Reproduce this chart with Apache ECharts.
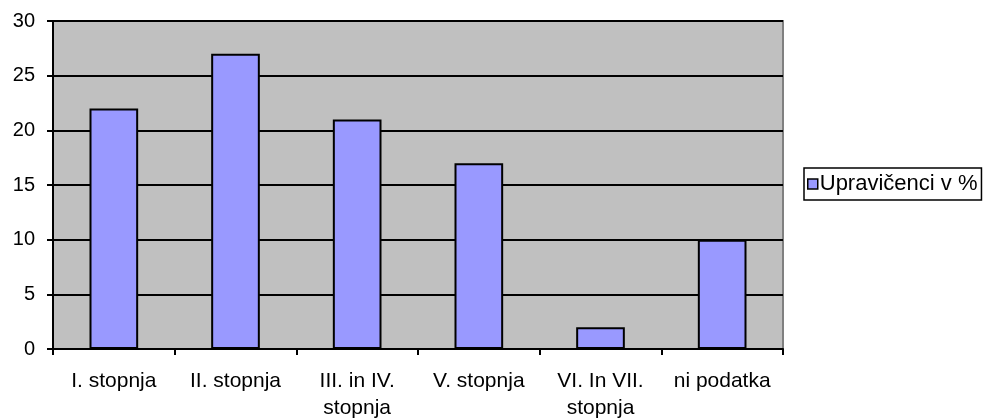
<!DOCTYPE html>
<html>
<head>
<meta charset="utf-8">
<script src="https://cdn.jsdelivr.net/npm/echarts@6/dist/echarts.min.js"></script>
<style>
  html, body { margin: 0; padding: 0; background: #fff; }
  #chart { width: 986px; height: 418px; }
</style>
</head>
<body>
<div id="chart"></div>
<script>
// Categories (education levels) and share of beneficiaries in percent
const categories = ['I. stopnja', 'II. stopnja', 'III. in IV.\nstopnja', 'V. stopnja', 'VI. In VII.\nstopnja', 'ni podatka'];
const values = [22, 27, 21, 17, 2, 10];
const seriesName = 'Upravičenci v %';
const yTicks = { min: 0, max: 30, interval: 5 };

const chart = echarts.init(document.getElementById('chart'), null, { renderer: 'canvas' });
const font = 'Liberation Sans, Arial, sans-serif';

chart.setOption({
  animation: false,
  textStyle: { fontFamily: font },
  grid: {
    left: 53, right: 203, top: 21, bottom: 69,
    outerBoundsMode: 'none',
    containLabel: false,
    show: true,
    backgroundColor: '#C0C0C0',
    borderColor: '#808080',
    borderWidth: 2
  },
  legend: {
    left: 804, top: 168,
    orient: 'vertical',
    backgroundColor: '#fff',
    borderColor: '#000',
    borderWidth: 1.5,
    padding: [5, 4, 5, 3],
    itemWidth: 10, itemHeight: 10, itemGap: 4,
    icon: 'rect',
    itemStyle: { borderColor: '#000', borderWidth: 1.5 },
    textStyle: { fontFamily: font, fontSize: 22, color: '#000', padding: [0, 0, 0, -3] },
    data: [seriesName]
  },
  xAxis: {
    type: 'category',
    data: categories,
    axisLine: { lineStyle: { color: '#000', width: 2 } },
    axisTick: { show: true, length: 6, inside: false, lineStyle: { color: '#000', width: 2 } },
    axisLabel: { fontFamily: font, fontSize: 21, color: '#000', margin: 19, lineHeight: 27, interval: 0 },
    splitLine: { show: false }
  },
  yAxis: {
    type: 'value',
    min: yTicks.min, max: yTicks.max, interval: yTicks.interval,
    axisLine: { show: true, lineStyle: { color: '#000', width: 2 } },
    axisTick: { show: true, length: 6, lineStyle: { color: '#000', width: 2 } },
    axisLabel: { fontFamily: font, fontSize: 20, color: '#000', margin: 18 },
    splitLine: { show: true, lineStyle: { color: '#000', width: 2 } }
  },
  series: [{
    name: seriesName,
    type: 'bar',
    data: values,
    barWidth: '40%',
    itemStyle: { color: '#9999FF', borderColor: '#000', borderWidth: 2 }
  }]
});
</script>
</body>
</html>
